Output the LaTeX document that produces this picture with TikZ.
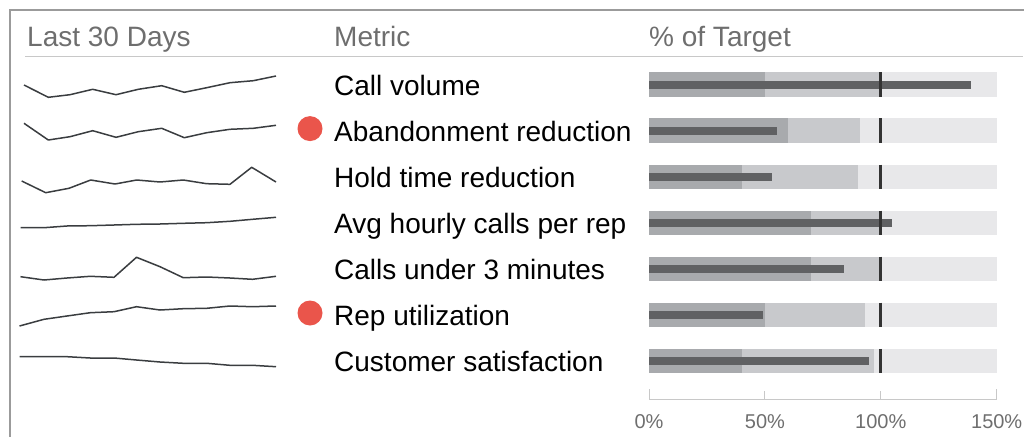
\documentclass[tikz,border=0pt]{standalone}
\usepackage{fontspec}
\setmainfont{Liberation Sans}
\usepackage{tikz}
\usetikzlibrary{positioning}
\definecolor{bandlight}{RGB}{232,232,234}
\definecolor{bandmid}{RGB}{200,201,204}
\definecolor{banddark}{RGB}{168,170,173}
\definecolor{valuebar}{RGB}{96,97,99}
\definecolor{targetmark}{RGB}{51,51,51}
\definecolor{alertred}{RGB}{234,85,75}
\definecolor{headgray}{RGB}{110,110,110}
\definecolor{framegray}{RGB}{155,155,155}
\definecolor{rulegray}{RGB}{200,200,200}
\definecolor{sparkgray}{RGB}{58,61,64}
\tikzstyle{header} = [anchor=base west, inner sep=0pt, text=headgray, font=\fontsize{28}{34}\selectfont]
\tikzstyle{metric} = [anchor=base west, inner sep=0pt, text=black, font=\fontsize{28}{34}\selectfont]
\tikzstyle{alert} = [circle, fill=alertred, minimum size=25pt, inner sep=0pt]
\tikzstyle{spark} = [line width=1.5pt, draw=sparkgray, line join=round]
\tikzstyle{target} = [line width=3pt, draw=targetmark]
\tikzstyle{axisline} = [line width=1pt, draw=rulegray]
\tikzstyle{ticklabel} = [anchor=base, inner sep=0pt, text=headgray, font=\fontsize{20}{24}\selectfont]

\begin{document}
\begin{tikzpicture}[x=1pt, y=-1pt]
    \useasboundingbox (0,0) rectangle (1024,436);

    % Frame and header rule
    \draw[line width=2pt, framegray] (10,437) -- (10,10) -- (1025,10);
    \draw[line width=1pt, rulegray] (25,56.5) -- (1023,56.5);

    % Headers
    \node[header] (hDays) at (27,46.5) {Last 30 Days};
    \node[header] (hMetric) at (334,46.5) {Metric};
    \node[header] (hTarget) at (649,46.5) {\% of Target};

    % Sparklines
    \draw[spark] plot coordinates {(24,85) (48.3,97.3) (70,94.7) (92.7,89.3) (116,94.7) (138.3,89.3) (161.7,85.7) (184.3,92.3) (206.7,87.7) (230,82.7) (253.3,80.7) (276,76)};
    \draw[spark] plot coordinates {(24,123.3) (48.3,140) (70,136.7) (92.7,130.7) (116,137.3) (138.3,131.7) (161.7,128.3) (184.3,137.7) (206.7,132.7) (230,129.3) (253.3,128.3) (276,125.3)};
    \draw[spark] plot coordinates {(21.7,181) (45.7,192.7) (69,188.3) (90.7,180) (115,184) (136.7,180) (160,182) (183.3,180) (206.7,183.7) (230,184.3) (251.7,167.3) (276,182)};
    \draw[spark] plot coordinates {(20.5,227.7) (44,227.7) (67,226) (90.3,225.7) (114,225) (136.5,224.3) (160,224) (183.3,223.3) (206.7,222.7) (230,221.3) (252.5,219.3) (276,217.3)};
    \draw[spark] plot coordinates {(20.5,276.7) (44,280) (67,278) (90.3,276.3) (114,277.3) (136.5,257.3) (160,266.7) (183.3,277.7) (206.7,277) (230,278) (252.5,279.3) (276,276.3)};
    \draw[spark] plot coordinates {(19.5,326) (44,319.3) (67,316) (90.3,312.7) (114,311.7) (136.5,306.7) (160,310) (183.3,308.7) (206.7,308.3) (230,306) (252.5,306.7) (276,306)};
    \draw[spark] plot coordinates {(19.5,356.7) (44,356.7) (67,356.7) (90.3,358) (114,358) (136.5,360) (160,362) (183.3,363.3) (206.7,363.3) (230,365.3) (252.5,365.3) (276,366.7)};

    % Alerts
    \node[alert] (dotAband) at (310,128.6) {};
    \node[alert] (dotRep) at (310,313) {};

    % Metrics
    \node[metric] (mCall) at (334,95) {Call volume};
    \node[metric] (mAband) at (334,141.1) {Abandonment reduction};
    \node[metric] (mHold) at (334,187.2) {Hold time reduction};
    \node[metric] (mHourly) at (334,233.2) {Avg hourly calls per rep};
    \node[metric] (mUnder) at (334,279.3) {Calls under 3 minutes};
    \node[metric] (mRep) at (334,325.4) {Rep utilization};
    \node[metric] (mSat) at (334,371.5) {Customer satisfaction};

    % Bullet bars (x in percent of target)
    \begin{scope}[shift={(649,0)}, x=2.318pt]
        % Call volume
        \fill[bandlight] (0,72.3) rectangle (150,96.7);
        \fill[bandmid] (0,72.3) rectangle (100,96.7);
        \fill[banddark] (0,72.3) rectangle (50,96.7);
        \fill[valuebar] (0,80.5) rectangle (139,88.5);
        \draw[target] (100,72.3) -- (100,96.7);
        % Abandonment reduction
        \fill[bandlight] (0,118.4) rectangle (150,142.8);
        \fill[bandmid] (0,118.4) rectangle (91,142.8);
        \fill[banddark] (0,118.4) rectangle (60,142.8);
        \fill[valuebar] (0,126.6) rectangle (55,134.6);
        \draw[target] (100,118.4) -- (100,142.8);
        % Hold time reduction
        \fill[bandlight] (0,164.5) rectangle (150,188.9);
        \fill[bandmid] (0,164.5) rectangle (90,188.9);
        \fill[banddark] (0,164.5) rectangle (40,188.9);
        \fill[valuebar] (0,172.7) rectangle (53,180.7);
        \draw[target] (100,164.5) -- (100,188.9);
        % Avg hourly calls per rep
        \fill[bandlight] (0,210.5) rectangle (150,234.9);
        \fill[bandmid] (0,210.5) rectangle (100,234.9);
        \fill[banddark] (0,210.5) rectangle (70,234.9);
        \fill[valuebar] (0,218.7) rectangle (105,226.7);
        \draw[target] (100,210.5) -- (100,234.9);
        % Calls under 3 minutes
        \fill[bandlight] (0,256.6) rectangle (150,281);
        \fill[bandmid] (0,256.6) rectangle (100,281);
        \fill[banddark] (0,256.6) rectangle (70,281);
        \fill[valuebar] (0,264.8) rectangle (84,272.8);
        \draw[target] (100,256.6) -- (100,281);
        % Rep utilization
        \fill[bandlight] (0,302.7) rectangle (150,327.1);
        \fill[bandmid] (0,302.7) rectangle (93,327.1);
        \fill[banddark] (0,302.7) rectangle (50,327.1);
        \fill[valuebar] (0,310.9) rectangle (49,318.9);
        \draw[target] (100,302.7) -- (100,327.1);
        % Customer satisfaction
        \fill[bandlight] (0,348.8) rectangle (150,373.2);
        \fill[bandmid] (0,348.8) rectangle (97,373.2);
        \fill[banddark] (0,348.8) rectangle (40,373.2);
        \fill[valuebar] (0,357) rectangle (95,365);
        \draw[target] (100,348.8) -- (100,373.2);

        % Axis
        \draw[axisline] (0,389) -- (0,399) -- (150,399) -- (150,389);
        \draw[axisline] (50,391) -- (50,399);
        \draw[axisline] (100,391) -- (100,399);
        \node[ticklabel] (t0) at (0,428) {0\%};
        \node[ticklabel] (t50) at (50,428) {50\%};
        \node[ticklabel] (t100) at (100,428) {100\%};
        \node[ticklabel] (t150) at (150,428) {150\%};
    \end{scope}
\end{tikzpicture}
\end{document}
